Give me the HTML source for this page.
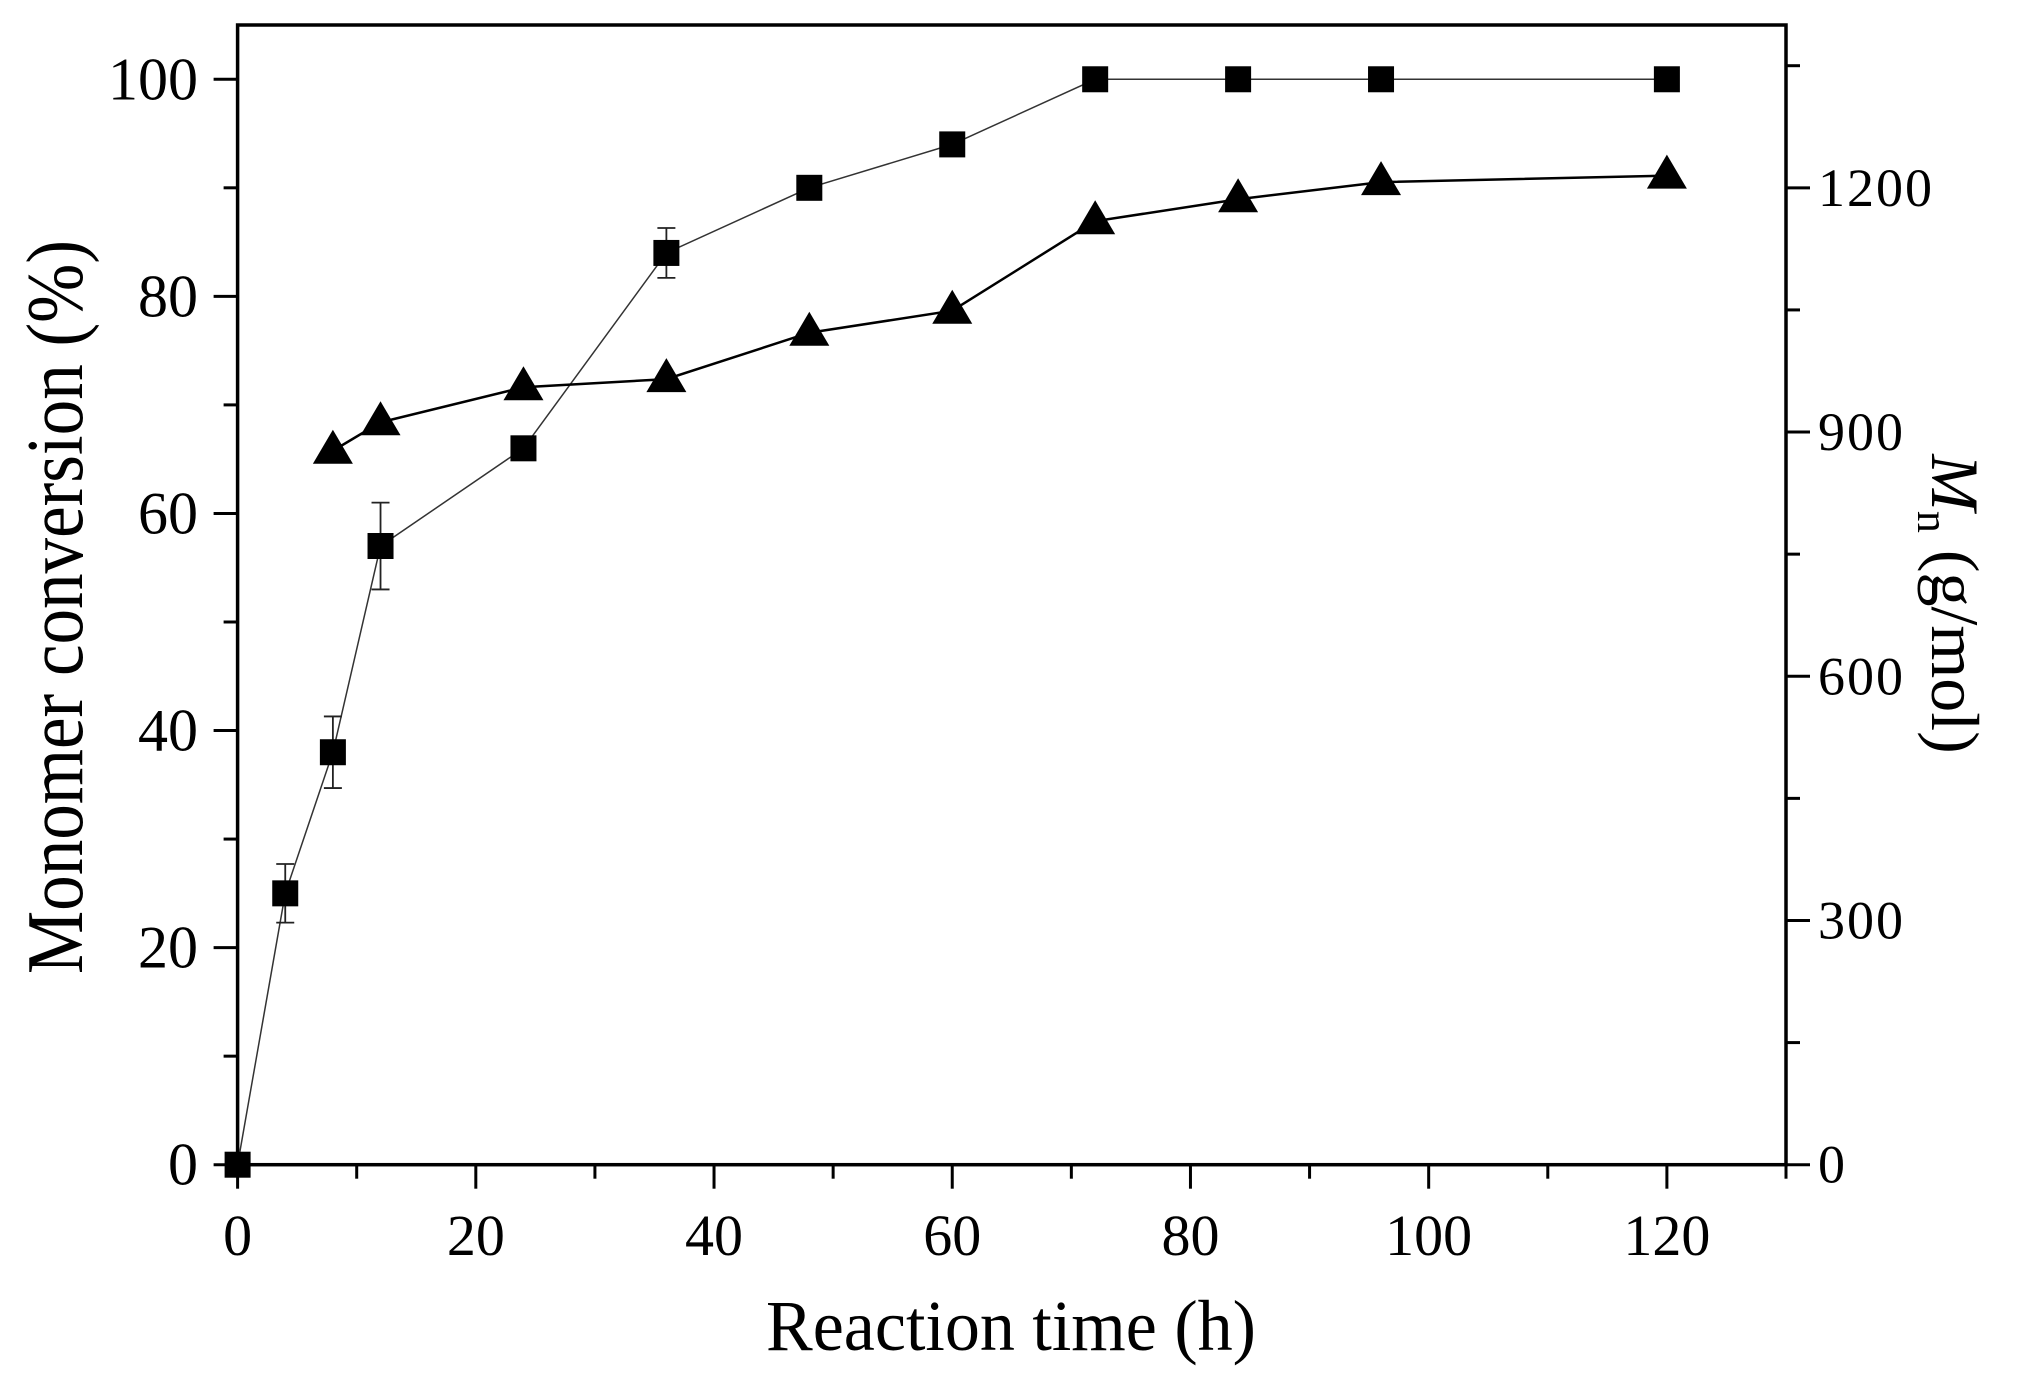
<!DOCTYPE html>
<html><head><meta charset="utf-8"><style>
html,body{margin:0;padding:0;background:#fff;}
svg{display:block;font-family:"Liberation Serif",serif;}
</style></head><body>
<svg id="chart" width="2036" height="1379" viewBox="0 0 2036 1379" xmlns="http://www.w3.org/2000/svg">
<g id="axes"></g>
<g id="series"></g>
<text x="1011" y="1350" font-size="72" text-anchor="middle" textLength="490" lengthAdjust="spacingAndGlyphs">Reaction time (h)</text>
<text transform="translate(82,607) rotate(-90)" font-size="80" text-anchor="middle" textLength="734" lengthAdjust="spacingAndGlyphs">Monomer conversion (%)</text>
<text transform="translate(1932,604) rotate(90)" font-size="68" text-anchor="middle"><tspan font-style="italic">M</tspan><tspan font-size="44" dy="14">n</tspan><tspan dy="-14"> (g/mol)</tspan></text>
</svg>
<script>
const timesConv = [0, 4, 8, 12, 24, 36, 48, 60, 72, 84, 96, 120];
const conversion = [0, 25, 38, 57, 66, 84, 90, 94, 100, 100, 100, 100];
const conversionErr = [0, 2.7, 3.3, 4, 0, 2.3, 0, 0, 0, 0, 0, 0];
const timesMn = [8, 12, 24, 36, 48, 60, 72, 84, 96, 120];
const mnValues = [877, 912, 955, 965, 1022, 1049, 1159, 1186, 1207, 1215];
const xTicks = [0, 20, 40, 60, 80, 100, 120];
const yTicksLeft = [0, 20, 40, 60, 80, 100];
const yTicksRight = [0, 300, 600, 900, 1200];

const L = 237.6, R = 1786, T = 25, B = 1164.7;
const xMax = 130, yMax = 105, y2Max = 1400;
const xs = v => L + v / xMax * (R - L);
const ys = v => B - v / yMax * (B - T);
const y2s = v => B - v / y2Max * (B - T);
const NS = 'http://www.w3.org/2000/svg';
function mk(tag, attrs, parent) {
  const e = document.createElementNS(NS, tag);
  for (const k in attrs) e.setAttribute(k, attrs[k]);
  parent.appendChild(e);
  return e;
}
const ax = document.getElementById('axes');
const se = document.getElementById('series');

const frame = mk('rect', {x: L, y: T, width: R - L, height: B - T, fill: 'none', stroke: '#000', 'stroke-width': 3.5}, ax);



for (let v = 0; v <= xMax; v += 10) {
  const major = v % 20 === 0;
  const t = mk('line', {x1: xs(v), x2: xs(v), y1: B, y2: B + (major ? 24 : 14), stroke: '#000', 'stroke-width': 3}, ax);
  
  
}
xTicks.forEach(v => {
  const t = mk('text', {x: xs(v), y: 1255, 'font-size': 58, 'text-anchor': 'middle'}, ax);
  t.textContent = v;
  
  
});
for (let v = 0; v <= 100; v += 10) {
  const major = v % 20 === 0;
  const t = mk('line', {x1: L, x2: L - (major ? 24 : 14), y1: ys(v), y2: ys(v), stroke: '#000', 'stroke-width': 3}, ax);
  
  
}
yTicksLeft.forEach(v => {
  const t = mk('text', {x: 198, y: ys(v) + 20, 'font-size': 60, 'text-anchor': 'end'}, ax);
  t.textContent = v;
  
  
});
for (let v = 0; v <= 1350; v += 150) {
  const major = v % 300 === 0;
  const t = mk('line', {x1: R, x2: R + (major ? 24 : 14), y1: y2s(v), y2: y2s(v), stroke: '#000', 'stroke-width': 3}, ax);
  
  
}
yTicksRight.forEach(v => {
  const t = mk('text', {x: 1818, y: y2s(v) + 18, 'font-size': 54, 'text-anchor': 'start', 'letter-spacing': 2}, ax);
  t.textContent = v;
  
  
});

const cp = mk('polyline', {points: timesConv.map((t, i) => xs(t) + ',' + ys(conversion[i])).join(' '), fill: 'none', stroke: '#333', 'stroke-width': 1.5}, se);


timesConv.forEach((t, i) => {
  const e = conversionErr[i];
  if (e > 0) {
    const cx = xs(t), y1 = ys(conversion[i] + e), y2 = ys(conversion[i] - e);
    const eb = mk('path', {d: `M${cx},${y1}V${y2}M${cx - 9},${y1}H${cx + 9}M${cx - 9},${y2}H${cx + 9}`, stroke: '#222', 'stroke-width': 1.8, fill: 'none'}, se);
    
    
  }
  const s = 26;
  const r = mk('rect', {x: xs(t) - s / 2, y: ys(conversion[i]) - s / 2, width: s, height: s, fill: '#000'}, se);
  
  
});

const mp = mk('polyline', {points: timesMn.map((t, i) => xs(t) + ',' + y2s(mnValues[i])).join(' '), fill: 'none', stroke: '#000', 'stroke-width': 2.5}, se);


timesMn.forEach((t, i) => {
  const cx = xs(t), cy = y2s(mnValues[i]);
  const tr = mk('polygon', {points: `${cx},${cy - 21} ${cx - 20},${cy + 13} ${cx + 20},${cy + 13}`, fill: '#000'}, se);
  
  
});
</script>
</body></html>
